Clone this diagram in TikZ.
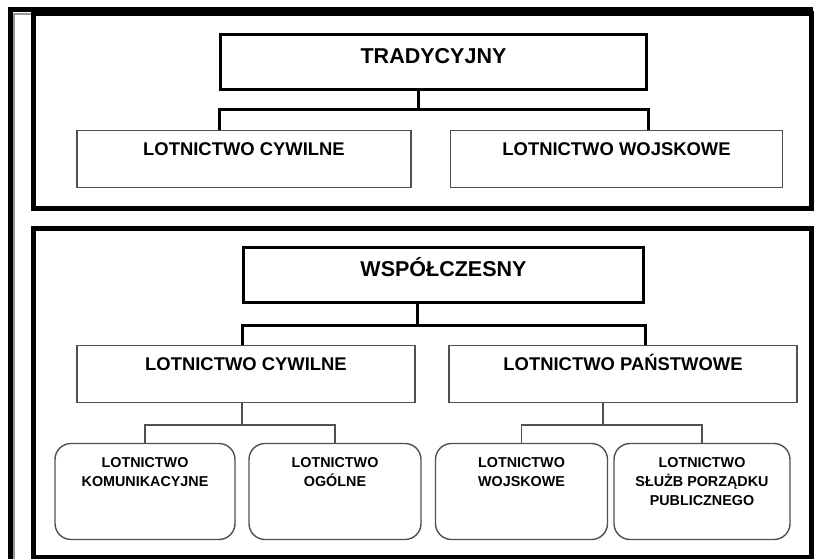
\documentclass[tikz,border=0pt]{standalone}
\usepackage{fontspec}
\setmainfont{Liberation Sans}
\usepackage{tikz}
\definecolor{framegray}{RGB}{150,150,150}
\definecolor{linegray}{RGB}{80,80,80}
\newcommand{\leafbox}[1]{\parbox[t][1.7cm][t]{4.3cm}{\centering #1}}

\begin{document}
\begin{tikzpicture}[
    head/.style={rectangle, draw, line width=0.075cm, minimum width=#1, minimum height=1.375cm,
        inner sep=0pt, text height=0.385cm, text depth=0.3cm, font=\fontsize{15.3}{18}\selectfont\bfseries},
    branch/.style={rectangle, draw=linegray, line width=0.035cm, minimum width=#1, minimum height=1.42cm,
        inner sep=0pt, text height=0.33cm, text depth=0.5cm, font=\fontsize{13.1}{16}\selectfont\bfseries},
    leaf/.style={rectangle, rounded corners=0.4cm, draw=linegray, line width=0.035cm, minimum width=#1,
        minimum height=2.4cm, inner sep=0pt, font=\fontsize{10.2}{13.5}\selectfont\bfseries},
    panel/.style={line width=0.125cm},
    bus/.style={line width=0.075cm},
    link/.style={draw=linegray, line width=0.035cm},
]
\useasboundingbox (0,0) rectangle (20.375,-13.975);

% Page frame
\draw[line width=0.125cm] (0.25,-13.975) -- (0.25,-0.2375) -- (20.33,-0.2375);
\draw[framegray, line width=0.05cm] (0.35,-13.975) -- (0.35,-0.35) -- (0.85,-0.35);

% Panels
\draw[panel] (0.8375,-0.35) rectangle (20.275,-5.225);
\draw[panel] (0.8375,-5.725) rectangle (20.275,-13.9375);

% Traditional division
\node[head=10.65cm] (trad) at (10.8375, -1.55) {TRADYCYJNY};

\node[branch=8.35cm] (tcyw) at (6.1, -3.975) {LOTNICTWO CYWILNE};
\node[branch=8.3cm] (twoj) at (15.4125, -3.975) {LOTNICTWO WOJSKOWE};

\coordinate (tbus) at (10.45, -2.75);
\draw[bus] (trad.south -| tbus) -- (tbus);
\draw[bus] (trad.west |- tcyw.north) |- (tbus) -| (trad.east |- twoj.north);

% Modern division
\node[head=10cm] (wsp) at (11.0875, -6.875) {WSPÓŁCZESNY};

\node[branch=8.45cm] (lcyw) at (6.15, -9.35) {LOTNICTWO CYWILNE};
\node[branch=8.7cm] (lpan) at (15.575, -9.35) {LOTNICTWO PAŃSTWOWE};

\coordinate (wbus) at (10.425, -8.125);
\draw[bus] (wsp.south -| wbus) -- (wbus);
\draw[bus] (wsp.west |- lcyw.north) |- (wbus) -| (wsp.east |- lpan.north);

% Civil aviation
\node[leaf=4.5cm] (kom) at (3.625, -12.2875) {\leafbox{LOTNICTWO\\KOMUNIKACYJNE}};
\node[leaf=4.15cm] (ogo) at (8.375, -12.2875) {\leafbox{LOTNICTWO\\OGÓLNE}};

\coordinate (cbus) at (6.05, -10.625);
\draw[link] (lcyw.south -| cbus) -- (cbus);
\draw[link] (kom.north) |- (cbus) -| (ogo.north);

% State aviation
\node[leaf=4.175cm] (woj) at (13.0375, -12.2875) {\leafbox{LOTNICTWO\\WOJSKOWE}};
\node[leaf=4.4cm] (slu) at (17.55, -12.2875) {\leafbox{LOTNICTWO\\SŁUŻB PORZĄDKU\\PUBLICZNEGO}};

\coordinate (pbus) at (15.075, -10.625);
\draw[link] (lpan.south -| pbus) -- (pbus);
\draw[link] (woj.north) |- (pbus) -| (slu.north);

\end{tikzpicture}
\end{document}
